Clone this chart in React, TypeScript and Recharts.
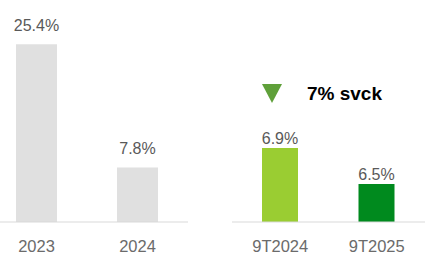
import { Bar, BarChart, Cell, LabelList, XAxis, YAxis } from "recharts";

const yearLabels = ["2023", "2024"];
const yearValues = [25.4, 7.8];
const periodLabels = ["9T2024", "9T2025"];
const periodValues = [6.9, 6.5];
const periodColors = ["#9acd32", "#008a1e"];
const changeText = "7% svck";

const FONT = "'Liberation Sans', Arial, sans-serif";

const yearData = yearLabels.map((label, i) => ({ label, value: yearValues[i] }));
const periodData = periodLabels.map((label, i) => ({ label, value: periodValues[i] }));

const fmt = (v: number) => `${v.toFixed(1)}%`;

function App() {
  return (
    <div
      style={{
        position: "absolute",
        left: 0,
        top: 0,
        width: 436,
        height: 265,
        background: "#fff",
        overflow: "hidden",
        fontFamily: FONT,
      }}
    >
      <div style={{ position: "absolute", left: -14, top: 0 }}>
        <BarChart width={202} height={265} data={yearData} margin={{ top: 12, right: 0, left: 0, bottom: 0 }}>
          <XAxis
            dataKey="label"
            height={43}
            axisLine={{ stroke: "#d9d9d9" }}
            tickLine={false}
            tickMargin={12}
            tick={{ fill: "#6b6b6b", fontSize: 16.5, fontFamily: FONT }}
          />
          <YAxis hide domain={[0, 30]} />
          <Bar dataKey="value" fill="#e0e0e0" barSize={41} isAnimationActive={false}>
            <LabelList
              dataKey="value"
              position="top"
              offset={13}
              formatter={fmt}
              style={{ fill: "#595959", fontSize: 16, fontFamily: FONT }}
            />
          </Bar>
        </BarChart>
      </div>
      <div style={{ position: "absolute", left: 232, top: 0 }}>
        <BarChart width={193} height={265} data={periodData} margin={{ top: 112, right: 0, left: 0, bottom: 0 }}>
          <XAxis
            dataKey="label"
            height={43}
            axisLine={{ stroke: "#d9d9d9" }}
            tickLine={false}
            tickMargin={12}
            tick={{ fill: "#6b6b6b", fontSize: 16.5, fontFamily: FONT }}
          />
          <YAxis hide domain={[6.078, 7.3]} allowDataOverflow />
          <Bar dataKey="value" barSize={36} isAnimationActive={false}>
            {periodData.map((d, i) => (
              <Cell key={d.label} fill={periodColors[i]} />
            ))}
            <LabelList
              dataKey="value"
              position="top"
              offset={4}
              formatter={fmt}
              style={{ fill: "#595959", fontSize: 16, fontFamily: FONT }}
            />
          </Bar>
        </BarChart>
      </div>
      <svg style={{ position: "absolute", left: 262, top: 84 }} width={20} height={20}>
        <polygon points="0,0 20,0 10,19" fill="#5fa03a" />
      </svg>
      <div
        style={{
          position: "absolute",
          left: 307,
          top: 83,
          fontSize: 19,
          fontWeight: 700,
          color: "#000",
          lineHeight: "22px",
          whiteSpace: "nowrap",
        }}
      >
        {changeText}
      </div>
    </div>
  );
}

export default App;
